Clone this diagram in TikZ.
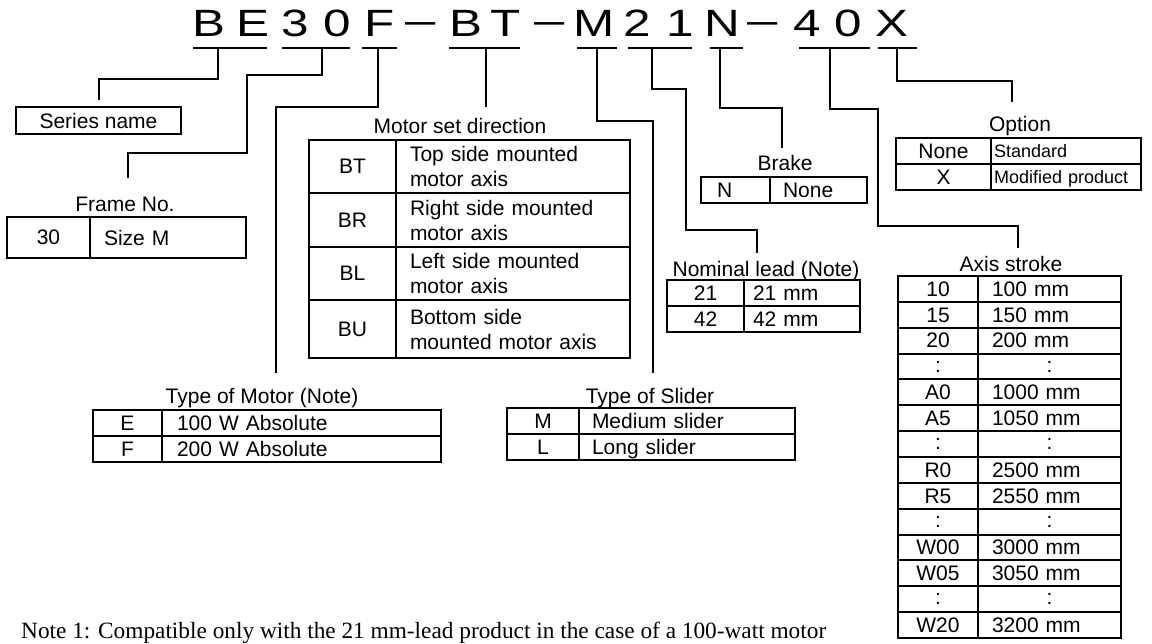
\documentclass[tikz,border=0pt]{standalone}
\usepackage{fontspec}
\setmainfont{Liberation Sans}
\newfontfamily\notefont{Liberation Serif}
\newfontfamily\codefam[FakeStretch=1.3]{Liberation Sans}
\newcommand\lblfont{\fontsize{21}{25}\selectfont}
\newcommand\optfont{\fontsize{18}{21}\selectfont}
\newcommand\codefont{\codefam\fontsize{38}{44}\selectfont}

\begin{document}
\begin{tikzpicture}[x=1pt, y=-1pt,
	lbl/.style={anchor=base, font=\lblfont, inner sep=0pt},
	codech/.style={anchor=base, font=\codefont, inner sep=0pt},
	cell/.style={draw, line width=2pt, inner sep=0pt, outer sep=0pt,
		anchor=north west, font=\lblfont, align=center, text depth=0pt},
	uline/.style={line width=2pt},
	wire/.style={line width=1.8pt}]
		
		% Page
		\path[fill=white, use as bounding box] (0,0) rectangle (1152,644);
		
		% --- Model code ---
		\foreach \c/\x [count=\i] in {B/209, E/253, 3/295, 0/337, F/380, B/466, T/506,
			M/594, 2/637, 1/680, N/722, 4/807, 0/848, X/892}
		\node[codech] (ch\i) at (\x,37) {\c};
		\foreach \x [count=\i] in {421,550,763}
		\node[codech, yshift=3pt, xscale=1.1] (dash\i) at (\x,37) {–};
		
		% Underlines
		\foreach \a/\b in {193/267, 282/350, 362/397, 449/520, 577/617,
			628/692, 710/743, 799/870, 878/917}
		\draw[uline] (\a,48) -- (\b,48);
		
		\coordinate (uBE) at (218,48);
		\coordinate (u30) at (322,48);
		\coordinate (uF)  at (378,48);
		\coordinate (uBT) at (486,48);
		\coordinate (uM)  at (597,48);
		\coordinate (u21) at (652,48);
		\coordinate (uN)  at (720,48);
		\coordinate (u40) at (830,48);
		\coordinate (uX)  at (897,48);
		
		% --- Tables ---
		% Series name
		\node[cell, minimum width=165, minimum height=27] (series) at (16,107) {Series name};
		
		% Frame No.
		\node[lbl] (frame) at (125,212) {Frame No.};
		\node[cell, minimum width=83, minimum height=41] (frame-a) at (7,217) {30};
		\node[cell, align=left, text width=128pt, inner xsep=14pt, minimum height=41]
		(frame-b) at (90,217) {Size M};
		
		% Motor set direction
		\node[lbl] (dir) at (460,134) {Motor set direction};
		\foreach \code/\txt/\y/\h [count=\i] in {BT/{Top side mounted\\motor axis}/140/53,
			BR/{Right side mounted\\motor axis}/193/54,
			BL/{Left side mounted\\motor axis}/247/53,
			BU/{Bottom side\\mounted motor axis}/300/58}
		{
			\node[cell, minimum width=87, minimum height=\h] (dir-a\i) at (309,\y) {\code};
			\node[cell, align=left, text width=206pt, inner xsep=14pt, minimum height=\h,
			text depth={}] (dir-b\i) at (396,\y) {\txt};
		}
		
		% Type of Motor
		\node[lbl] (motor) at (262,403) {Type of Motor (Note)};
		\node[cell, minimum width=69, minimum height=26] (motor-a1) at (93,410) {E};
		\node[cell, align=left, text width=249pt, inner xsep=15pt, minimum height=26]
		(motor-b1) at (162,410) {100 W Absolute};
		\node[cell, minimum width=69, minimum height=26] (motor-a2) at (93,436) {F};
		\node[cell, align=left, text width=249pt, inner xsep=15pt, minimum height=26]
		(motor-b2) at (162,436) {200 W Absolute};
		
		% Type of Slider
		\node[lbl] (slider) at (650,403) {Type of Slider};
		\node[cell, minimum width=72, minimum height=26] (slider-a1) at (507,408) {M};
		\node[cell, align=left, text width=190pt, inner xsep=13pt, minimum height=26]
		(slider-b1) at (579,408) {Medium slider};
		\node[cell, minimum width=72, minimum height=26] (slider-a2) at (507,434) {L};
		\node[cell, align=left, text width=190pt, inner xsep=13pt, minimum height=26]
		(slider-b2) at (579,434) {Long slider};
		
		% Nominal lead
		\node[lbl] (lead) at (766,277) {Nominal lead (Note)};
		\node[cell, minimum width=77, minimum height=26] (lead-a1) at (667,280) {21};
		\node[cell, align=left, text width=98pt, inner xsep=9pt, minimum height=26]
		(lead-b1) at (744,280) {21 mm};
		\node[cell, minimum width=77, minimum height=26] (lead-a2) at (667,306) {42};
		\node[cell, align=left, text width=98pt, inner xsep=9pt, minimum height=26]
		(lead-b2) at (744,306) {42 mm};
		
		% Brake
		\node[lbl] (brake) at (785,171) {Brake};
		\node[cell, align=left, text width=37pt, inner xsep=16pt, minimum height=26]
		(brake-a) at (701,177) {N};
		\node[cell, align=left, text width=71pt, inner xsep=13pt, minimum height=26]
		(brake-b) at (770,177) {None};
		
		% Option
		\node[lbl] (option) at (1020,132) {Option};
		\node[cell, minimum width=95, minimum height=26] (opt-a1) at (896,138) {None};
		\node[cell, align=left, text width=144pt, inner xsep=3pt, minimum height=26,
		font=\optfont] (opt-b1) at (991,138) {Standard};
		\node[cell, minimum width=95, minimum height=26] (opt-a2) at (896,164) {X};
		\node[cell, align=left, text width=144pt, inner xsep=3pt, minimum height=26,
		font=\optfont] (opt-b2) at (991,164) {Modified product};
		
		% Axis stroke
		\node[lbl] (stroke) at (1011,272) {Axis stroke};
		\foreach \a/\b/\al [count=\i from 0] in {10/100 mm/left, 15/150 mm/left,
			20/200 mm/left, :/:/center, A0/1000 mm/left, A5/1050 mm/left, :/:/center,
			R0/2500 mm/left, R5/2550 mm/left, :/:/center, W00/3000 mm/left,
			W05/3050 mm/left, :/:/center, W20/3200 mm/left}
		{
			\node[cell, minimum width=80, minimum height=25.86]
			(st-a\i) at (898,{276+25.86*\i}) {\a};
			\node[cell, align/.expanded=\al, text width=115pt, inner xsep=14pt,
			minimum height=25.86] (st-b\i) at (978,{276+25.86*\i}) {\b};
		}
		
		% --- Leader lines ---
		\coordinate (series-end) at (99,100);
		\coordinate (frame-end)  at (128,178);
		\coordinate (motor-end)  at (276,373);
		\coordinate (dir-end)    at (486,107);
		\coordinate (slider-end) at (653,373);
		\coordinate (lead-end)   at (757,253);
		\coordinate (brake-end)  at (782,148);
		\coordinate (stroke-end) at (1018,248);
		\coordinate (option-end) at (1012,102);
		
		\draw[wire] (uBE) -- ++(0,31) -| (series-end);
		\draw[wire] (u30) -- ++(0,27) -| (247,153) -| (frame-end);
		\draw[wire] (uF)  -- ++(0,59) -| (motor-end);
		\draw[wire] (uBT) -- (dir-end);
		\draw[wire] (uM)  -- ++(0,73) -| (slider-end);
		\draw[wire] (u21) -- ++(0,41) -| (686,230) -| (lead-end);
		\draw[wire] (uN)  -- ++(0,60) -| (brake-end);
		\draw[wire] (u40) -- ++(0,61) -| (878,226) -| (stroke-end);
		\draw[wire] (uX)  -- ++(0,33) -| (option-end);
		
		% Note
		\node[anchor=base west, inner sep=0pt, font=\notefont\fontsize{23.3}{28}\selectfont]
		(note) at (21,638) {Note 1: Compatible only with the 21 mm-lead product in the case of a 100-watt motor};
		
	\end{tikzpicture}
\end{document}
